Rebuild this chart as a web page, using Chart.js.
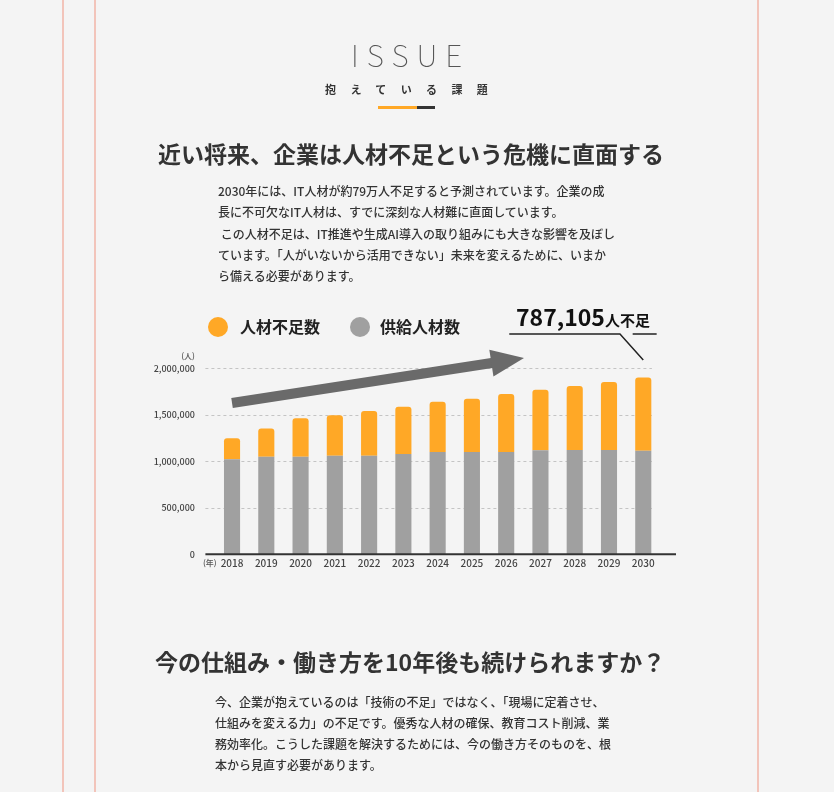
<!DOCTYPE html>
<html lang="ja">
<head>
<meta charset="utf-8">
<script src="https://cdn.jsdelivr.net/npm/chart.js@4.4.1/dist/chart.umd.min.js"></script>
<style>
  html, body { margin: 0; padding: 0; }
  body {
    width: 834px; height: 792px; position: relative; overflow: hidden;
    background: #f4f4f4; color: #333;
    font-family: "Noto Sans CJK JP", "Noto Sans", sans-serif;
  }
  #chart { position: absolute; left: 0; top: 0; }
  .abs { position: absolute; white-space: nowrap; line-height: 1; }
  .vline { position: absolute; top: 0; width: 2px; height: 792px; background: #f2c4ba; }
  .issue { left: 351px; top: 39px; font-size: 30px; font-weight: 100; letter-spacing: 8px; color: #555; }
  .sub { left: 325px; top: 84px; font-size: 11px; font-weight: bold; letter-spacing: 14.4px; color: #333; }
  .bar-o { position: absolute; left: 378px; top: 106px; width: 39px; height: 3px; background: #ffa826; }
  .bar-d { position: absolute; left: 417px; top: 106px; width: 18px; height: 3px; background: #333; }
  .h2 { font-size: 23px; font-weight: bold; color: #333; }
  .p { position: absolute; font-size: 12px; line-height: 21.3px; color: #333; white-space: nowrap; font-weight: 500; }
  .legend-dot { position: absolute; width: 20px; height: 20px; border-radius: 50%; }
  .legend-txt { font-size: 16px; font-weight: bold; color: #222; }
  .callout { left: 516px; top: 305px; font-weight: bold; color: #111; }
  .callout .num { font-size: 23px; }
  .callout .unit { font-size: 15px; }
</style>
</head>
<body>
<canvas id="chart" width="834" height="792"></canvas>

<div class="vline" style="left:62px"></div>
<div class="vline" style="left:94px"></div>
<div class="vline" style="left:757px"></div>

<div class="abs issue">ISSUE</div>
<div class="abs sub">抱えている課題</div>
<div class="bar-o"></div><div class="bar-d"></div>

<div class="abs h2" style="left:158px; top:142px">近い将来、企業は人材不足という危機に直面する</div>
<div class="p" style="left:218px; top:180px">2030年には、IT人材が約79万人不足すると予測されています。企業の成<br>長に不可欠なIT人材は、すでに深刻な人材難に直面しています。<br>&nbsp;この人材不足は、IT推進や生成AI導入の取り組みにも大きな影響を及ぼし<br>ています。「人がいないから活用できない」未来を変えるために、いまか<br>ら備える必要があります。</div>

<div id="legend"></div>
<div class="abs callout"><span class="num" id="calloutNum"></span><span class="unit">人不足</span></div>

<div class="abs h2" style="left:155px; top:650px">今の仕組み・働き方を10年後も続けられますか？</div>
<div class="p" style="left:215px; top:691px; line-height:21px">今、企業が抱えているのは「技術の不足」ではなく、「現場に定着させ、<br>仕組みを変える力」の不足です。優秀な人材の確保、教育コスト削減、業<br>務効率化。こうした課題を解決するためには、今の働き方そのものを、根<br>本から見直す必要があります。</div>

<script>
const years = ['2018', '2019', '2020', '2021', '2022', '2023', '2024', '2025', '2026', '2027', '2028', '2029', '2030'];
const supply = [1021000, 1048000, 1050000, 1060000, 1060000, 1078000, 1100000, 1100000, 1100000, 1120000, 1121000, 1121000, 1113000];
const shortage = [226000, 306000, 413000, 435000, 481000, 509000, 541000, 573000, 624000, 649000, 689000, 732000, 787105];
const seriesNames = ['人材不足数', '供給人材数'];
const seriesColors = ['#ffa826', '#a0a0a0'];
const yTicks = [0, 500000, 1000000, 1500000, 2000000];

// legend + callout text, built from the arrays above
const legend = document.getElementById('legend');
[[208, 240], [350, 380]].forEach(([dotX, txtX], i) => {
    const dot = document.createElement('div');
    dot.className = 'legend-dot';
    dot.style.cssText = `left:${dotX}px; top:317px; background:${seriesColors[i]}`;
    legend.appendChild(dot);
    const txt = document.createElement('div');
    txt.className = 'abs legend-txt';
    txt.style.cssText = `left:${txtX}px; top:318px`;
    txt.textContent = seriesNames[i];
    legend.appendChild(txt);
});
document.getElementById('calloutNum').textContent = shortage[shortage.length - 1].toLocaleString('en-US');

const fontFamily = '"Noto Sans CJK JP", "Noto Sans", sans-serif';

const decor = {
    id: 'decor',
    beforeDatasetsDraw(chart) {
        const { ctx, chartArea, scales: { y } } = chart;
        ctx.save();
        ctx.strokeStyle = '#c4c4c4';
        ctx.lineWidth = 1;
        ctx.setLineDash([3, 3]);
        yTicks.filter(v => v > 0).forEach(v => {
            const py = Math.round(y.getPixelForValue(v)) + 0.5;
            ctx.beginPath();
            ctx.moveTo(chartArea.left - 9.5, py);
            ctx.lineTo(chartArea.right - 8.5, py);
            ctx.stroke();
        });
        ctx.restore();
    },
    afterDatasetsDraw(chart) {
        const { ctx, chartArea, scales: { x, y } } = chart;
        ctx.save();

        // baseline
        const y0 = y.getPixelForValue(0);
        ctx.strokeStyle = '#333';
        ctx.lineWidth = 2;
        ctx.beginPath();
        ctx.moveTo(chartArea.left - 9.5, y0);
        ctx.lineTo(chartArea.right + 15.6, y0);
        ctx.stroke();

        // unit labels
        ctx.fillStyle = '#555';
        ctx.font = '500 8px ' + fontFamily;
        ctx.textBaseline = 'middle';
        ctx.textAlign = 'right';
        ctx.fillText('(人)', chartArea.left - 20, y.getPixelForValue(2000000) - 12.5);
        ctx.textAlign = 'left';
        ctx.fillText('(年)', chartArea.left - 12, y0 + 9);

        // trend arrow
        const ax0 = x.getPixelForValue(0), ay0 = y.getPixelForValue(1627000);
        const ax1 = x.getPixelForValue(8.52), ay1 = y.getPixelForValue(2110000);
        const ang = Math.atan2(ay1 - ay0, ax1 - ax0);
        const headLen = 33, headHalf = 13.5;
        const bx = ax1 - headLen * Math.cos(ang), by = ay1 - headLen * Math.sin(ang);
        ctx.strokeStyle = '#6a6a6a';
        ctx.fillStyle = '#6a6a6a';
        ctx.lineWidth = 10;
        ctx.lineCap = 'butt';
        ctx.beginPath();
        ctx.moveTo(ax0, ay0);
        ctx.lineTo(bx + 2 * Math.cos(ang), by + 2 * Math.sin(ang));
        ctx.stroke();
        ctx.beginPath();
        ctx.moveTo(ax1, ay1);
        ctx.lineTo(bx - headHalf * Math.sin(ang), by + headHalf * Math.cos(ang));
        ctx.lineTo(bx + headHalf * Math.sin(ang), by - headHalf * Math.cos(ang));
        ctx.closePath();
        ctx.fill();

        // callout pointer to the 2030 bar
        const cx = x.getPixelForValue(years.length - 1);
        const cy = y.getPixelForValue(2090000);
        const hy = cy - 26;
        ctx.strokeStyle = '#222';
        ctx.lineWidth = 1.5;
        ctx.beginPath();
        ctx.moveTo(cx - 134, hy);
        ctx.lineTo(cx - 23.3, hy);
        ctx.lineTo(cx, cy);
        ctx.moveTo(cx - 10.6, hy);
        ctx.lineTo(cx + 13.4, hy);
        ctx.stroke();

        ctx.restore();
    }
};

new Chart(document.getElementById('chart'), {
    type: 'bar',
    data: {
        labels: years,
        datasets: [
            {
                label: seriesNames[1],
                data: supply,
                backgroundColor: seriesColors[1],
                borderRadius: 0,
                categoryPercentage: 1,
                barPercentage: 0.47
            },
            {
                label: seriesNames[0],
                data: shortage,
                backgroundColor: seriesColors[0],
                borderRadius: { topLeft: 3, topRight: 3, bottomLeft: 0, bottomRight: 0 },
                borderSkipped: 'start',
                categoryPercentage: 1,
                barPercentage: 0.47
            }
        ]
    },
    options: {
        responsive: false,
        animation: false,
        layout: { padding: { left: 140, right: 173.6, top: 368.3, bottom: 217.7 } },
        plugins: { legend: { display: false }, tooltip: { enabled: false } },
        scales: {
            x: {
                stacked: true,
                grid: { display: false, drawTicks: false },
                border: { display: false },
                ticks: { color: '#444', font: { family: fontFamily, size: 10, weight: '500' }, padding: 3 },
                afterFit: s => { s.height = 20; }
            },
            y: {
                stacked: true,
                min: 0,
                max: 2000000,
                grid: { display: false, drawTicks: false },
                border: { display: false },
                afterBuildTicks: s => { s.ticks = yTicks.map(v => ({ value: v })); },
                ticks: {
                    color: '#444',
                    font: { family: fontFamily, size: 9, weight: '500' },
                    padding: 20,
                    callback: v => v.toLocaleString('en-US')
                },
                afterFit: s => { s.width = 74.9; }
            }
        }
    },
    plugins: [decor]
});
</script>
</body>
</html>
